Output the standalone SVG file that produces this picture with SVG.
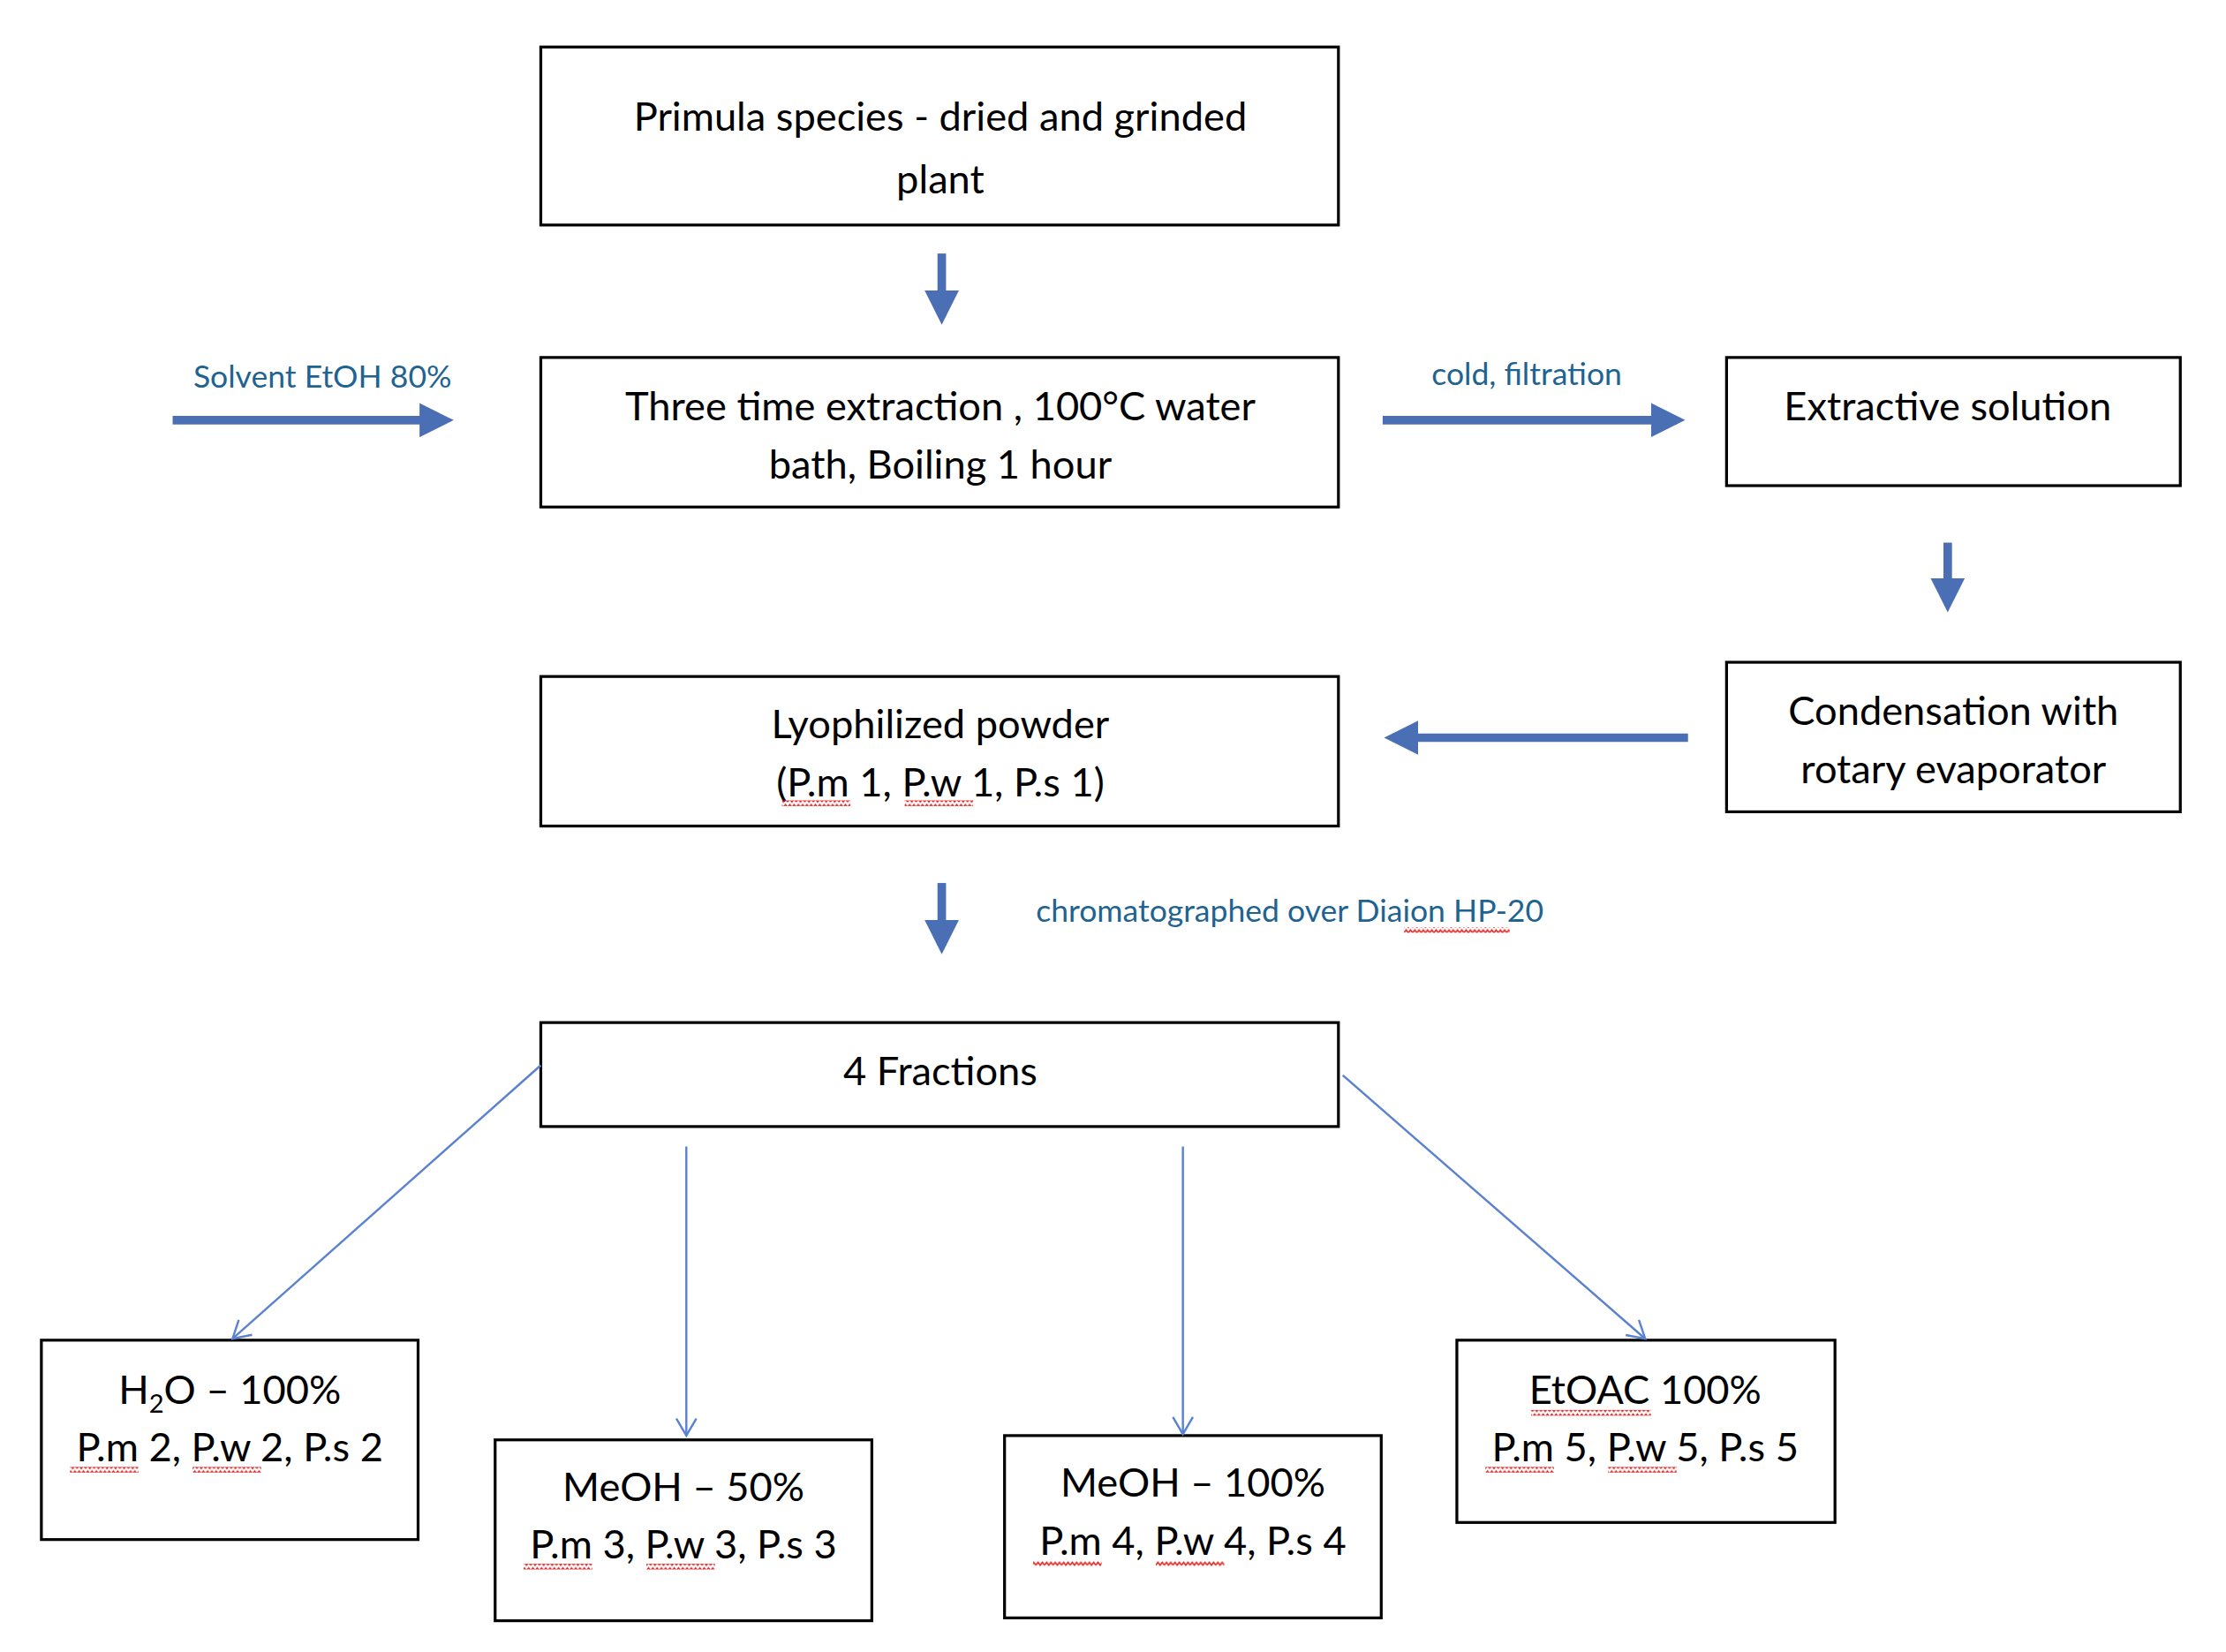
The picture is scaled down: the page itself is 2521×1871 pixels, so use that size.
<svg xmlns="http://www.w3.org/2000/svg" width="2521" height="1871" viewBox="0 0 2521 1871">
<style>
.box{fill:#fff;stroke:#000;stroke-width:2}
.t{font-family:Lato,"Open Sans",sans-serif;font-size:28px;fill:#000;text-anchor:middle}
.lb{font-family:Lato,"Open Sans",sans-serif;font-size:22px;fill:#1f6391}
.thick{stroke:#4a6fb5;stroke-width:6;fill:none}
.thin{stroke:#5b82d0;stroke-width:1.5;fill:none}
</style>
<defs>
<marker id="ha" markerWidth="4" markerHeight="4" refX="3" refY="2" orient="auto"><path d="M0,0 L4,2 L0,4 Z" fill="#4a6fb5"/></marker>
<marker id="oa" markerWidth="16" markerHeight="16" refX="14" refY="8" orient="auto" markerUnits="userSpaceOnUse"><path d="M2,1 L14,8 L2,15" fill="none" stroke="#5b82d0" stroke-width="1.5"/></marker>
<pattern id="wv" width="6" height="4" patternUnits="userSpaceOnUse"><path d="M0,3 L1.5,1 L3,3 L4.5,1 L6,3" fill="none" stroke="#e02020" stroke-width="1"/></pattern>
</defs>
<rect width="2521" height="1871" fill="#fff"/>
<g transform="scale(1.616,1.613)">
<g id="n1"><rect class="box" x="379" y="33" width="559" height="125"/><text class="t" x="659" y="92">Primula species - dried and grinded</text><text class="t" x="659" y="136">plant</text></g>
<g id="n2"><rect class="box" x="379" y="251" width="559" height="105"/><text class="t" x="659" y="295">Three time extraction , 100°C water</text><text class="t" x="659" y="336">bath, Boiling 1 hour</text></g>
<g id="n3"><rect class="box" x="1210" y="251" width="318" height="90"/><text class="t" x="1365" y="295">Extractive solution</text></g>
<g id="n4"><rect class="box" x="1210" y="465" width="318" height="105"/><text class="t" x="1369" y="509">Condensation with</text><text class="t" x="1369" y="550">rotary evaporator</text></g>
<g id="n5"><rect class="box" x="379" y="475" width="559" height="105"/><text class="t" x="659" y="518">Lyophilized powder</text><text class="t" x="659" y="559">(P.m 1, P.w 1, P.s 1)</text>
<rect x="548" y="562" width="48" height="4" fill="url(#wv)"/><rect x="634" y="562" width="48" height="4" fill="url(#wv)"/></g>
<g id="n6"><rect class="box" x="379" y="718" width="559" height="73"/><text class="t" x="659" y="762">4 Fractions</text></g>
<g id="n7"><rect class="box" x="29" y="941" width="264" height="140"/><text class="t" x="161" y="986">H<tspan font-size="18" dy="6">2</tspan><tspan dy="-6">O – 100%</tspan></text><text class="t" x="161" y="1026">P.m 2, P.w 2, P.s 2</text>
<rect x="49" y="1030" width="48" height="4" fill="url(#wv)"/><rect x="135" y="1030" width="48" height="4" fill="url(#wv)"/></g>
<g id="n8"><rect class="box" x="347" y="1011" width="264" height="127"/><text class="t" x="479" y="1054">MeOH – 50%</text><text class="t" x="479" y="1094">P.m 3, P.w 3, P.s 3</text>
<rect x="367" y="1098" width="48" height="4" fill="url(#wv)"/><rect x="453" y="1098" width="48" height="4" fill="url(#wv)"/></g>
<g id="n9"><rect class="box" x="704" y="1008" width="264" height="128"/><text class="t" x="836" y="1051">MeOH – 100%</text><text class="t" x="836" y="1092">P.m 4, P.w 4, P.s 4</text>
<rect x="724" y="1096" width="48" height="4" fill="url(#wv)"/><rect x="810" y="1096" width="48" height="4" fill="url(#wv)"/></g>
<g id="n10"><rect class="box" x="1021" y="941" width="265" height="128"/><text class="t" x="1153" y="986">EtOAC 100%</text><text class="t" x="1153" y="1026">P.m 5, P.w 5, P.s 5</text>
<rect x="1073" y="990" width="84" height="4" fill="url(#wv)"/><rect x="1041" y="1030" width="48" height="4" fill="url(#wv)"/><rect x="1127" y="1030" width="48" height="4" fill="url(#wv)"/></g>
<g id="connectors">
<line class="thick" x1="660" y1="178" x2="660" y2="222" marker-end="url(#ha)"/>
<line class="thick" x1="121" y1="295" x2="312" y2="295" marker-end="url(#ha)"/>
<line class="thick" x1="969" y1="295" x2="1175" y2="295" marker-end="url(#ha)"/>
<line class="thick" x1="1365" y1="381" x2="1365" y2="424" marker-end="url(#ha)"/>
<line class="thick" x1="1183" y1="518" x2="976" y2="518" marker-end="url(#ha)"/>
<line class="thick" x1="660" y1="620" x2="660" y2="664" marker-end="url(#ha)"/>
<line class="thin" x1="379" y1="748" x2="163" y2="940" marker-end="url(#oa)"/>
<line class="thin" x1="481" y1="805" x2="481" y2="1008" marker-end="url(#oa)"/>
<line class="thin" x1="829" y1="805" x2="829" y2="1007" marker-end="url(#oa)"/>
<line class="thin" x1="941" y1="755" x2="1153" y2="940" marker-end="url(#oa)"/>
<text class="lb" x="226" y="272" text-anchor="middle">Solvent EtOH 80%</text>
<text class="lb" x="1070" y="270" text-anchor="middle">cold, filtration</text>
<text class="lb" x="726" y="647">chromatographed over Diaion HP-20</text>
<rect x="984" y="651" width="74" height="4" fill="url(#wv)"/>
</g>
</g>
</svg>
